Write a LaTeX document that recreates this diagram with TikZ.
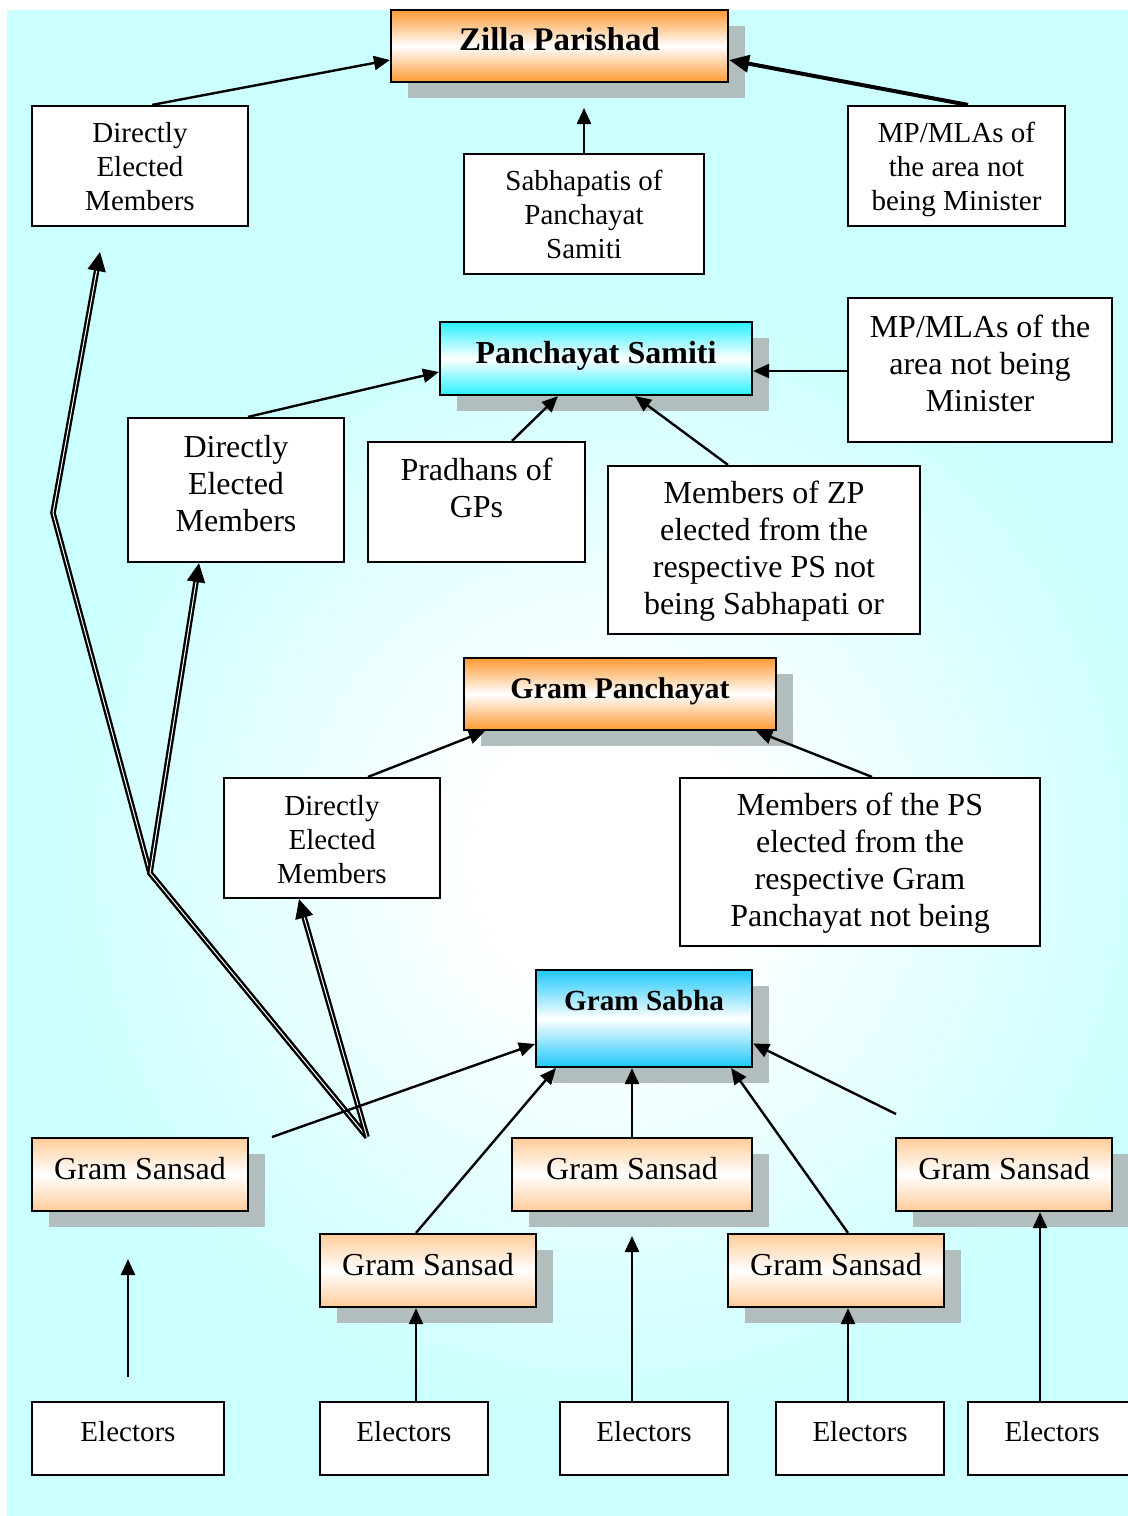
\documentclass[tikz,border=0pt]{standalone}
\usepackage{fontspec}
\setmainfont{Liberation Serif}
\usetikzlibrary{arrows.meta,shadows}
\definecolor{bgcyan}{RGB}{204,255,255}
\definecolor{orng}{RGB}{255,153,51}
\definecolor{peach}{RGB}{255,204,153}
\definecolor{aqua}{RGB}{40,240,255}
\definecolor{sky}{RGB}{30,200,250}
\definecolor{shgray}{RGB}{178,190,190}
\pgfdeclareradialshading{bgrad}{\pgfpointorigin}{color(0bp)=(white); color(6bp)=(white); color(25bp)=(bgcyan); color(50bp)=(bgcyan)}
\begin{document}
\begin{tikzpicture}[x=0.5pt,y=-0.5pt,
  bx/.style={draw=black, line width=1.1pt, rectangle, inner sep=0pt},
  wbox/.style={bx, fill=white},
  shad/.style={drop shadow={shadow xshift=8.5pt, shadow yshift=-8pt, fill=shgray, opacity=1}},
  obox/.style={bx, shad, top color=orng, bottom color=orng, middle color=white},
  cbox/.style={bx, shad, top color=aqua, bottom color=aqua, middle color=white},
  sbox/.style={bx, shad, top color=sky, bottom color=sky, middle color=white},
  pbox/.style={bx, shad, top color=peach, bottom color=peach, middle color=white, minimum height=36.5pt},
  ebox/.style={wbox, minimum height=36.5pt},
  tsm/.style={inner sep=0pt, align=center, font=\fontsize{14.5}{17}\selectfont},
  tlg/.style={inner sep=0pt, align=center, font=\fontsize{16}{18.5}\selectfont},
  thd/.style={inner sep=0pt, font=\bfseries\fontsize{16}{18}\selectfont},
  arr/.style={line width=1.2pt, -{Triangle[length=8pt,width=7pt]}},
  arrthick/.style={line width=2pt, -{Triangle[length=10pt,width=8.5pt]}},
  dbl/.style={draw=black, double=white, double distance=0.5pt, line width=1.15pt, line join=miter, -{Triangle[length=9.5pt,width=9pt]}}
]
\useasboundingbox (0,0) rectangle (1128,1516);
\clip (0,0) rectangle (1128,1516);
% background
\fill[bgcyan] (7,10) rectangle (1140,1530);
\shade[shading=bgrad] (610,860) circle (560);

% boxes
\node[obox, minimum width=168.5pt, minimum height=36pt] (zp) at (559.5,46) {};
\node[thd, font=\bfseries\fontsize{16.5}{18}\selectfont] (zpt) at (559.5,43) {\strut Zilla Parishad};
\node[wbox, minimum width=108pt, minimum height=60pt] (dz) at (140,166) {};
\node[tsm] (dzt) at (140,170) {\strut Directly\\\strut Elected\\\strut Members};
\node[wbox, minimum width=120pt, minimum height=60pt] (sab) at (584,214) {};
\node[tsm] (sabt) at (584,218) {\strut Sabhapatis of\\\strut Panchayat\\\strut Samiti};
\node[wbox, minimum width=108.5pt, minimum height=60pt] (mpz) at (956.5,166) {};
\node[tsm] (mpzt) at (956.5,170) {\strut MP/MLAs of\\\strut the area not\\\strut being Minister};

\node[cbox, minimum width=156pt, minimum height=36.5pt] (ps) at (596,358.5) {};
\node[thd] (pst) at (596,356) {\strut Panchayat Samiti};
\node[wbox, minimum width=132pt, minimum height=72pt] (mpp) at (980,370) {};
\node[tlg] (mppt) at (980,367) {\strut MP/MLAs of the\\\strut area not being\\\strut Minister};
\node[wbox, minimum width=108pt, minimum height=72pt] (dp) at (236,490) {};
\node[tlg] (dpt) at (236,487) {\strut Directly\\\strut Elected\\\strut Members};
\node[wbox, minimum width=108.5pt, minimum height=60pt] (pr) at (476.5,502) {};
\node[tlg] (prt) at (476.5,492) {\strut Pradhans of\\\strut GPs};
\node[wbox, minimum width=156pt, minimum height=84pt] (mzp) at (764,550) {};
\node[tlg] (mzpt) at (764,552) {\strut Members of ZP\\\strut elected from the\\\strut respective PS not\\\strut being Sabhapati or};

\node[obox, minimum width=156pt, minimum height=36pt] (gp) at (620,694) {};
\node[thd, font=\bfseries\fontsize{15}{18}\selectfont] (gpt) at (620,691) {\strut Gram Panchayat};
\node[wbox, minimum width=108pt, minimum height=60pt] (dg) at (332,838) {};
\node[tsm] (dgt) at (332,843) {\strut Directly\\\strut Elected\\\strut Members};
\node[wbox, minimum width=180pt, minimum height=84pt] (mps) at (860,862) {};
\node[tlg] (mpst) at (860,864) {\strut Members of the PS\\\strut elected from the\\\strut respective Gram\\\strut Panchayat not being};

\node[sbox, minimum width=108pt, minimum height=48.5pt] (gs) at (644,1018.5) {};
\node[thd, font=\bfseries\fontsize{14.6}{18}\selectfont] (gst) at (644,1003) {\strut Gram Sabha};

\node[pbox, minimum width=108pt] (ssa) at (140,1174.5) {};
\node[tlg] (ssat) at (140,1172) {\strut Gram Sansad};
\node[pbox, minimum width=120pt] (ssb) at (632,1174.5) {};
\node[tlg] (ssbt) at (632,1172) {\strut Gram Sansad};
\node[pbox, minimum width=108pt] (ssc) at (1004,1174.5) {};
\node[tlg] (ssct) at (1004,1172) {\strut Gram Sansad};
\node[pbox, minimum width=108pt] (ssd) at (428,1270.5) {};
\node[tlg] (ssdt) at (428,1268) {\strut Gram Sansad};
\node[pbox, minimum width=108pt] (sse) at (836,1270.5) {};
\node[tlg] (sset) at (836,1268) {\strut Gram Sansad};

\node[ebox, minimum width=96pt] (ea) at (128,1438.5) {};
\node[tsm] (eat) at (128,1435) {\strut Electors};
\node[ebox, minimum width=84pt] (eb) at (404,1438.5) {};
\node[tsm] (ebt) at (404,1435) {\strut Electors};
\node[ebox, minimum width=84pt] (ec) at (644,1438.5) {};
\node[tsm] (ect) at (644,1435) {\strut Electors};
\node[ebox, minimum width=84pt] (ed) at (860,1438.5) {};
\node[tsm] (edt) at (860,1435) {\strut Electors};
\node[ebox, minimum width=84pt] (ee) at (1052,1438.5) {};
\node[tsm] (eet) at (1052,1435) {\strut Electors};

% double-line connectors
\coordinate (dA) at (367,1137);
\coordinate (dB) at (150,873);
\coordinate (dC) at (53,513);
\coordinate (dD) at (100,252);
\draw[dbl] (dA) -- (dB) -- (dC) -- (dD);
\draw[dbl] (dA) -- (dB) -- ([xshift=-18.5pt]dp.south);
\draw[dbl] (dA) -- ([xshift=-16.5pt]dg.south);

% single connectors
\draw[arr] ([xshift=6pt]dz.north) -- ([yshift=-7pt]zp.west);
\draw[arrthick] ([xshift=5.75pt]mpz.north) -- ([yshift=-7pt]zp.east);
\coordinate (sabtip) at (584,108);
\draw[arr] (sab.north) -- (sabtip);
\draw[arr] ([xshift=6pt]dp.north) -- ([yshift=-6.75pt]ps.west);
\draw[arr] ([yshift=-0.5pt]mpp.west) -- ([yshift=-6.25pt]ps.east);
\draw[arr] ([xshift=17.75pt]pr.north) -- ([xshift=-19pt]ps.south);
\draw[arr] ([xshift=-18pt]mzp.north) -- ([xshift=19.5pt]ps.south);
\draw[arr] ([xshift=18pt]dg.north) -- ([xshift=11pt]gp.south west);
\draw[arr] ([xshift=6pt]mps.north) -- ([xshift=-10.5pt]gp.south east);
\coordinate (fl) at (272,1137);
\draw[arr] (fl) -- ([yshift=-12.75pt]gs.west);
\draw[arr] ([xshift=-6pt]ssd.north) -- ([xshift=10.5pt]gs.south west);
\draw[arr] (ssb.north) -- ([xshift=-6pt]gs.south);
\draw[arr] ([xshift=6pt]sse.north) -- ([xshift=-11pt]gs.south east);
\coordinate (fr) at (896,1114);
\draw[arr] (fr) -- ([yshift=-12.5pt]gs.east);
\coordinate (eatip) at (128,1259);
\draw[arr] ([yshift=12pt]ea.north) -- (eatip);
\draw[arr] ([xshift=6pt]eb.north) -- ([xshift=-6pt]ssd.south);
\coordinate (ectip) at (632,1236);
\draw[arr] ([xshift=-6pt]ec.north) -- (ectip);
\draw[arr] ([xshift=-6pt]ed.north) -- ([xshift=6pt]sse.south);
\draw[arr] ([xshift=-6pt]ee.north) -- ([xshift=18pt]ssc.south);
\end{tikzpicture}
\end{document}
